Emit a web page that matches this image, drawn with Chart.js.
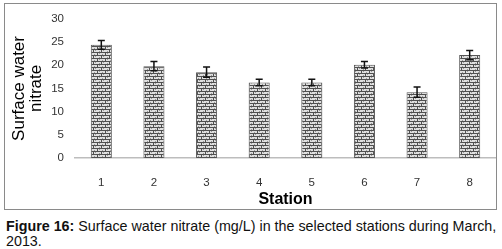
<!DOCTYPE html>
<html>
<head>
<meta charset="utf-8">
<script src="https://cdn.jsdelivr.net/npm/chart.js@4"></script>
<style>
  body { margin: 0; background: #fff; font-family: "Liberation Sans", Arial, sans-serif; }
  #box { position: absolute; left: 4px; top: 3px; width: 491px; height: 205px; border: 1px solid #8a8a8a; }
  #nitrate { position: absolute; left: 0; top: -3px; }
  #cap { position: absolute; left: 6px; top: 219px; width: 494px; font-size: 14.3px; line-height: 15px; color: #111; }
</style>
</head>
<body>
<div id="box"><canvas id="nitrate" width="491" height="208"></canvas></div>
<div id="cap"><b>Figure 16:</b> Surface water nitrate (mg/L) in the selected stations during March, 2013.</div>
<script>
// data
var stations = ['1', '2', '3', '4', '5', '6', '7', '8'];
var nitrate = [24.4, 19.8, 18.5, 16.3, 16.3, 20.1, 14.2, 22.2];
var errors = [0.95, 1.0, 1.1, 0.7, 0.7, 0.7, 1.1, 1.0];

// brick-ish fill like the excel pattern
const makeBricks = () => {
    let c = document.createElement('canvas');
    c.width = 8; c.height = 6;
    let g = c.getContext('2d');
    g.fillStyle = '#e0e0e0';
    g.fillRect(0, 0, 8, 6);
    g.fillStyle = '#505050';
    g.fillRect(0, 0, 8, 1);
    g.fillRect(0, 3, 8, 1);
    g.fillRect(0, 1, 1, 2);
    g.fillRect(4, 4, 1, 2);
    g.fillStyle = '#9a9a9a';
    g.fillRect(2, 1, 1, 1);
    g.fillRect(6, 2, 1, 1);
    g.fillRect(1, 5, 1, 1);
    g.fillRect(6, 4, 1, 1);
    return g.createPattern(c, 'repeat');
}

const errorBars = {
    id: 'errorBars',
    afterDatasetsDraw(chart) {
        let ctx = chart.ctx, y = chart.scales.y;
        let meta = chart.getDatasetMeta(0);
        ctx.save();
        ctx.strokeStyle = '#111';
        ctx.lineWidth = 1.5;
        for (let i = 0; i < meta.data.length; i++) {
            let x = meta.data[i].x;
            let top = y.getPixelForValue(nitrate[i] + errors[i]);
            let bot = y.getPixelForValue(nitrate[i] - errors[i]);
            ctx.beginPath();
            ctx.moveTo(x, top); ctx.lineTo(x, bot);
            ctx.moveTo(x - 3.5, top); ctx.lineTo(x + 3.5, top);
            ctx.moveTo(x - 3.5, bot); ctx.lineTo(x + 3.5, bot);
            ctx.stroke();
        }
        ctx.restore();
    }
};

var ctx = document.getElementById('nitrate');
var chart = new Chart(ctx, {
    type: 'bar',
    data: {
        labels: stations,
        datasets: [{
            data: nitrate,
            backgroundColor: makeBricks(),
            borderColor: '#555',
            borderWidth: 1,
            barPercentage: 0.4,
            categoryPercentage: 1.0
        }]
    },
    options: {
        responsive: false,
        animation: false,
        layout: { padding: { top: 7, right: 0, left: 0, bottom: 0 } },
        plugins: { legend: { display: false }, tooltip: { enabled: false } },
        scales: {
            x: {
                grid: { display: false, drawTicks: false },
                border: { color: '#bdbdbd', width: 1.5 },
                ticks: { color: '#333', padding: 18, font: { family: 'Liberation Sans', size: 11.5 } },
                title: { display: true, text: 'Station', color: '#000', padding: { top: 0, bottom: 0 },
                    font: { family: 'Liberation Sans', size: 16, weight: 'bold' } },
                afterFit: (s) => { s.height = 51; }
            },
            y: {
                min: 0, max: 30,
                grid: { display: false, drawTicks: false },
                border: { display: false },
                ticks: { stepSize: 5, color: '#333', padding: 11, font: { family: 'Liberation Sans', size: 11.5 } },
                title: { display: true, text: ['Surface water', 'nitrate'], color: '#000', padding: { top: 5, bottom: 0 },
                    font: { family: 'Liberation Sans', size: 17, lineHeight: 1.05 } },
                afterFit: (s) => { s.width = 70; }
            }
        }
    },
    plugins: [errorBars]
});
</script>
</body>
</html>
